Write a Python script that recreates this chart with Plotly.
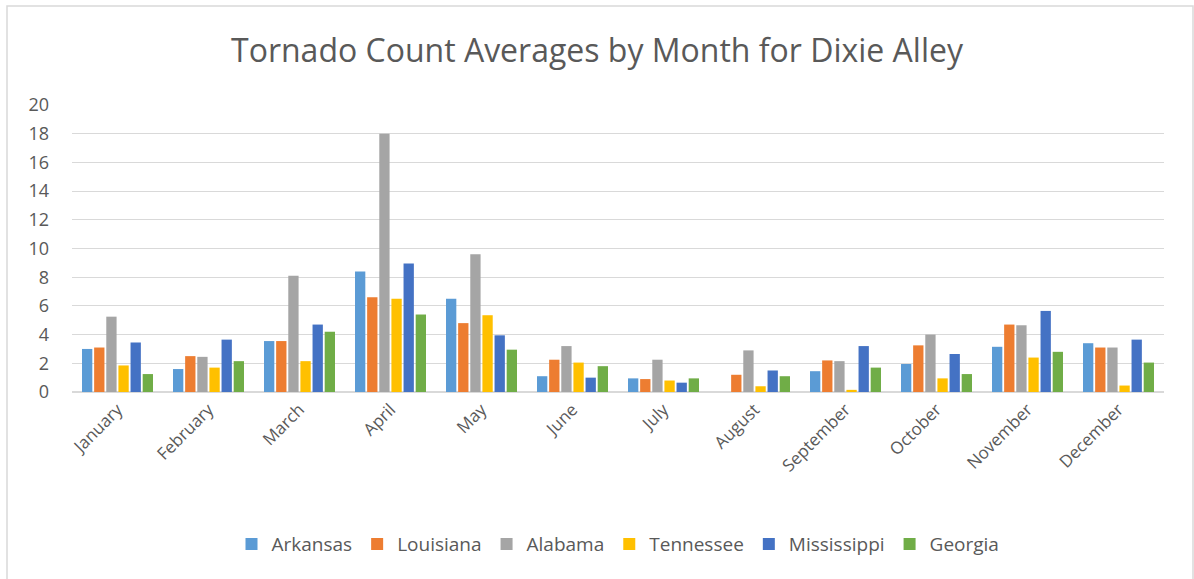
import plotly.graph_objects as go

months = ["January", "February", "March", "April", "May", "June", "July",
          "August", "September", "October", "November", "December"]
arkansas = [3.0, 1.6, 3.55, 8.4, 6.5, 1.1, 0.95, 0.0, 1.45, 1.95, 3.15, 3.4]
louisiana = [3.1, 2.5, 3.55, 6.6, 4.8, 2.25, 0.9, 1.2, 2.2, 3.25, 4.7, 3.1]
alabama = [5.25, 2.45, 8.1, 18.0, 9.6, 3.2, 2.25, 2.9, 2.15, 4.0, 4.65, 3.1]
tennessee = [1.85, 1.7, 2.15, 6.5, 5.35, 2.05, 0.8, 0.4, 0.15, 0.95, 2.4, 0.45]
mississippi = [3.45, 3.65, 4.7, 8.95, 3.95, 1.0, 0.65, 1.5, 3.2, 2.65, 5.65, 3.65]
georgia = [1.25, 2.15, 4.2, 5.4, 2.95, 1.8, 0.95, 1.1, 1.7, 1.25, 2.8, 2.05]

series = [("Arkansas", arkansas, "#5B9BD5"), ("Louisiana", louisiana, "#ED7D31"),
          ("Alabama", alabama, "#A5A5A5"), ("Tennessee", tennessee, "#FFC000"),
          ("Mississippi", mississippi, "#4472C4"), ("Georgia", georgia, "#70AD47")]
y_ticks = list(range(0, 21, 2))

font_family = "Open Sans, sans-serif"

fig = go.Figure()
for name, vals, color in series:
    fig.add_trace(go.Bar(x=months, y=vals, name=name, marker_color=color,
                         marker_line_width=0))

fig.update_layout(
    width=1194, height=579,
    margin=dict(l=72, r=30, t=105, b=187),
    paper_bgcolor="white", plot_bgcolor="white",
    barmode="group", bargap=0.2, bargroupgap=0.15,
    title=dict(text="Tornado Count Averages by Month for Dixie Alley",
               x=0.5, xanchor="center", y=0.913, yanchor="middle",
               font=dict(family=font_family, size=32, color="#595959")),
    font=dict(family=font_family, color="#595959"),
    legend=dict(orientation="h", x=0.5, xanchor="center", y=-0.53, yanchor="middle",
                font=dict(size=19, color="#595959"), itemwidth=30,
                traceorder="normal"),
    xaxis=dict(tickangle=-45, tickfont=dict(size=17, color="#595959"),
               showline=True, linecolor="#D9D9D9", linewidth=1, ticks=""),
    yaxis=dict(range=[0, 20], tickvals=y_ticks, showgrid=True,
               gridcolor="#D9D9D9", gridwidth=1, zeroline=True,
               zerolinecolor="#D9D9D9", tickfont=dict(size=18, color="#595959"),
               ticklabelstandoff=22),
    shapes=[dict(type="rect", xref="paper", yref="paper",
                 x0=(7 - 72) / 1092, x1=(1193 - 72) / 1092,
                 y0=(392 - 600) / 287, y1=(392 - 6) / 287,
                 line=dict(color="#D9D9D9", width=1.5), layer="below")],
)

fig.write_html("out.html")
